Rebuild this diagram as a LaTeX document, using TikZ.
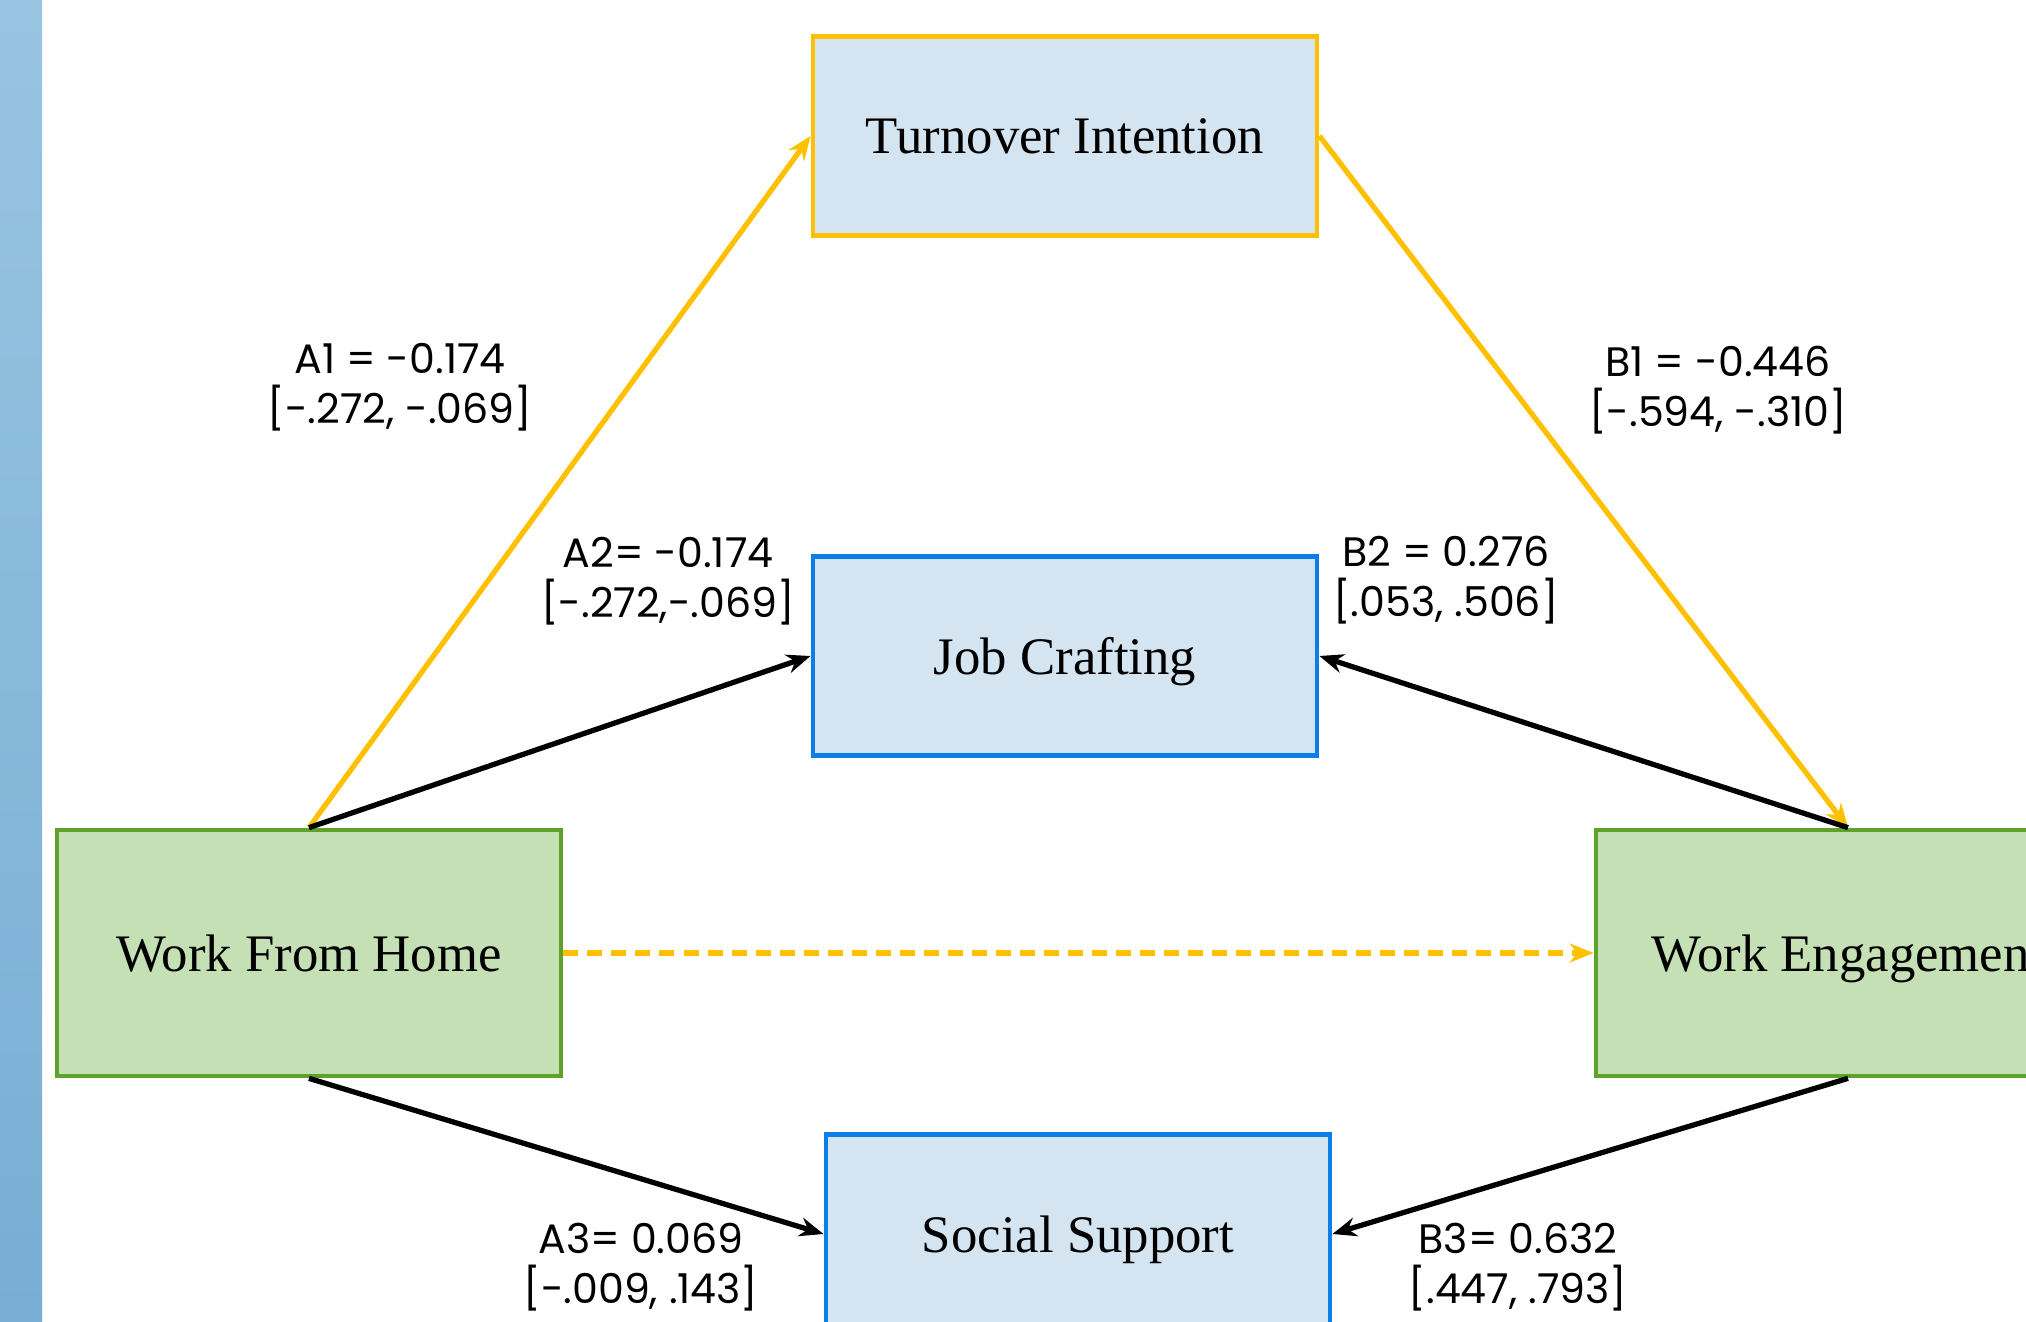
\documentclass[tikz,border=0pt]{standalone}
\usepackage{fontspec}
\setmainfont{Liberation Serif}
\newfontfamily\lblfont{Poppins}
\usepackage{tikz}
\usetikzlibrary{arrows.meta}
\definecolor{gold}{HTML}{FFC000}
\definecolor{grnline}{HTML}{5FA22B}
\definecolor{grnfill}{HTML}{C5E0B4}
\definecolor{bluline}{HTML}{0B7EE8}
\definecolor{blufill}{HTML}{D4E5F1}
\tikzset{
  box/.style={draw, line width=1.3pt, minimum width=5.04cm, minimum height=1.99cm, text depth=0pt, font=\fontsize{15}{18}\selectfont},
  outbox/.style={box, draw=gold, fill=blufill},
  medbox/.style={box, draw=bluline, fill=blufill},
  endbox/.style={box, draw=grnline, fill=grnfill, minimum height=2.46cm},
  edge/.style={line width=1.5pt, -{Stealth[length=0.24cm,width=0.19cm]}},
  elbl/.style={align=center, font=\lblfont\fontsize{11.7}{14.2}\selectfont},
  }

\begin{document}
\begin{tikzpicture}[x=0.01cm, y=-0.01cm]
  \useasboundingbox (0,0) rectangle (2026,1322);
  \clip (0,0) rectangle (2026,1322);
  \shade[top color={rgb,255:red,152;green,196;blue,225}, bottom color={rgb,255:red,120;green,174;blue,212}] (0,0) rectangle (42,1322);

  % boxes
  \node[outbox] (turn)   at (1065, 136) {Turnover Intention};
  \node[medbox] (craft)  at (1065, 656) {Job Crafting};
  \node[endbox] (wfh)    at (309, 953)  {Work From Home};
  \node[endbox] (we)     at (1848, 953) {Work Engagement};
  \node[medbox] (social) at (1078,1234) {Social Support};

  % seven paths
  \draw[edge,color=gold] (wfh.north) -- (turn.west);        % A1
  \draw[edge,color=gold] (turn.east) -- (we.north);         % B1
  \draw[edge] (wfh.north) -- (craft.west);                  % A2
  \draw[edge] (we.north) -- (craft.east);                   % B2
  \draw[edge,color=gold,dash pattern=on 0.15cm off 0.09cm] (wfh.east) -- (we.west);
  \draw[edge] (wfh.south) -- (social.west);                 % A3
  \draw[edge] (we.south) -- (social.east);                  % B3

  % path labels
  \node[elbl] (la1) at (400, 387)  {A1 = -0.174\\{}[-.272, -.069]};
  \node[elbl] (la2) at (668, 581)  {A2= -0.174\\{}[-.272,-.069]};
  \node[elbl] (lb1) at (1718, 390) {B1 = -0.446\\{}[-.594, -.310]};
  \node[elbl] (lb2) at (1446, 580) {B2 = 0.276\\{}[.053, .506]};
  \node[elbl] (la3) at (641, 1267) {A3= 0.069\\{}[-.009, .143]};
  \node[elbl] (lb3) at (1518, 1267) {B3= 0.632\\{}[.447, .793]};
\end{tikzpicture}
\end{document}
